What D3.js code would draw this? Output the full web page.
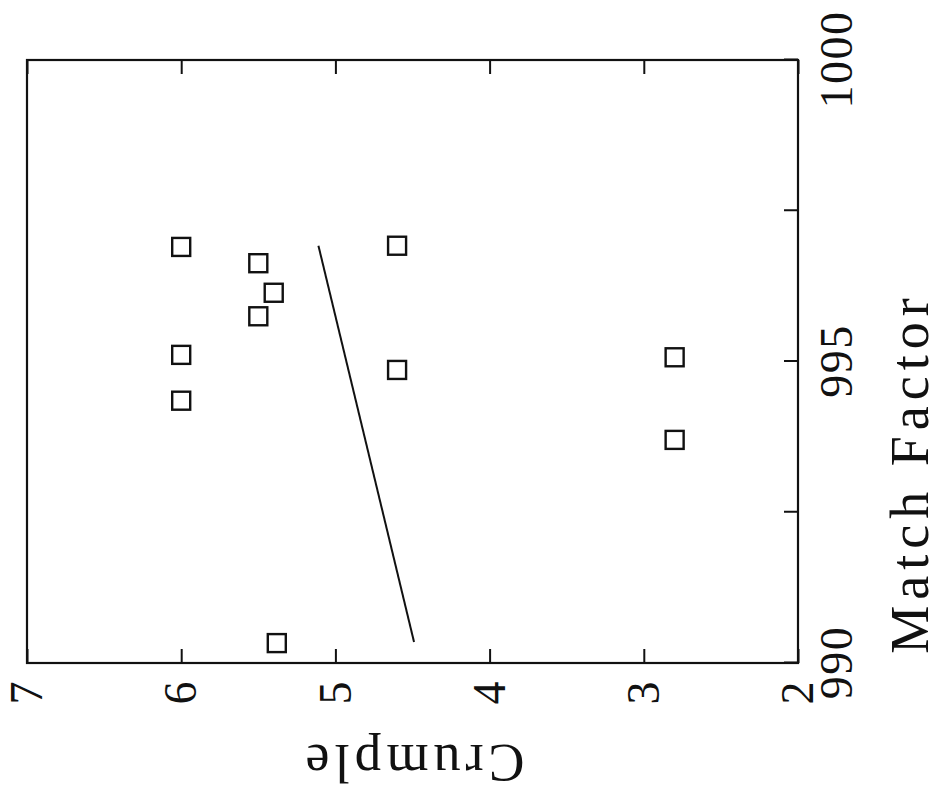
<!DOCTYPE html>
<html>
<head>
<meta charset="utf-8">
<script src="https://cdn.jsdelivr.net/npm/d3@7"></script>
<style>
  body { margin: 0; background: #fff; }
  text { font-family: "Liberation Serif", "DejaVu Serif", serif; fill: #111; }
</style>
</head>
<body>
<svg id="chart" width="948" height="795"></svg>
<script>
// measured points: Match Factor (x) vs Crumple (y)
const matchFactor = [996.90, 996.63, 996.14, 995.75, 995.11, 994.35, 996.92, 994.86, 995.07, 993.70, 990.33];
const crumple     = [6.00,   5.50,   5.40,   5.50,   6.00,   6.00,   4.60,   4.60,   2.80,   2.80,   5.38];

// fitted line end points
const fitMatch = [990.35, 996.92];
const fitCrumple = [4.49, 5.11];

const matchTicks = [990, 992.5, 995, 997.5, 1000];
const matchLabels = ["990", "", "995", "", "1000"];
const crumpleTicks = [2, 3, 4, 5, 6, 7];
const crumpleLabels = ["2", "3", "4", "5", "6", "7"];

const svg = d3.select("#chart");
svg.append("rect").attr("width", 948).attr("height", 795).attr("fill", "#fff");

// plot is drawn upright and then turned a quarter turn counter-clockwise
const W = 603, H = 771;
const g = svg.append("g").attr("transform", "translate(27,663) rotate(-90)");

const x = d3.scaleLinear().domain([990, 1000]).range([0, W]);
const y = d3.scaleLinear().domain([2, 7]).range([H, 0]);

const xAxis = g.append("g")
    .attr("transform", `translate(0,${H})`)
    .call(d3.axisBottom(x).tickValues(matchTicks)
      .tickFormat((d, i) => matchLabels[i])
      .tickSizeInner(-14).tickSizeOuter(0).tickPadding(21));

const yAxis = g.append("g")
    .call(d3.axisLeft(y).tickValues(crumpleTicks)
      .tickFormat((d, i) => crumpleLabels[i])
      .tickSizeInner(-14).tickSizeOuter(0).tickPadding(17));

const yAxisR = g.append("g")
    .attr("transform", `translate(${W},0)`)
    .call(d3.axisRight(y).tickValues(crumpleTicks)
      .tickFormat("").tickSizeInner(-14).tickSizeOuter(0));

[xAxis, yAxis, yAxisR].forEach(a => {
  a.select(".domain").remove();
  a.selectAll(".tick line").attr("stroke", "#111").attr("stroke-width", 2);
  a.selectAll(".tick text")
    .attr("font-family", "Liberation Serif, DejaVu Serif, serif")
    .attr("font-size", 46)
    .attr("letter-spacing", 1.5)
    .attr("fill", "#111");
});

// frame
g.append("rect")
  .attr("x", 0).attr("y", 0).attr("width", W).attr("height", H)
  .attr("fill", "none").attr("stroke", "#111").attr("stroke-width", 2.2);

// fitted line
const line = d3.line().x(d => x(d[0])).y(d => y(d[1]));
g.append("path")
  .datum(fitMatch.map((m, i) => [m, fitCrumple[i]]))
  .attr("d", line)
  .attr("fill", "none").attr("stroke", "#111").attr("stroke-width", 2);

// square markers
const s = 18;
g.selectAll("rect.pt")
  .data(matchFactor.map((m, i) => [m, crumple[i]]))
  .enter().append("rect")
    .attr("class", "pt")
    .attr("x", d => x(d[0]) - s / 2)
    .attr("y", d => y(d[1]) - s / 2)
    .attr("width", s).attr("height", s)
    .attr("fill", "none").attr("stroke", "#111").attr("stroke-width", 2.4);

// titles
g.append("text")
  .attr("x", 190).attr("y", H + 130)
  .attr("text-anchor", "middle")
  .attr("font-size", 54)
  .attr("letter-spacing", 6)
  .text("Match Factor");

g.append("text")
  .attr("transform", `translate(-82,${H / 2}) rotate(-90)`)
  .attr("text-anchor", "middle")
  .attr("font-size", 54)
  .attr("letter-spacing", 5)
  .text("Crumple");
</script>
</body>
</html>
